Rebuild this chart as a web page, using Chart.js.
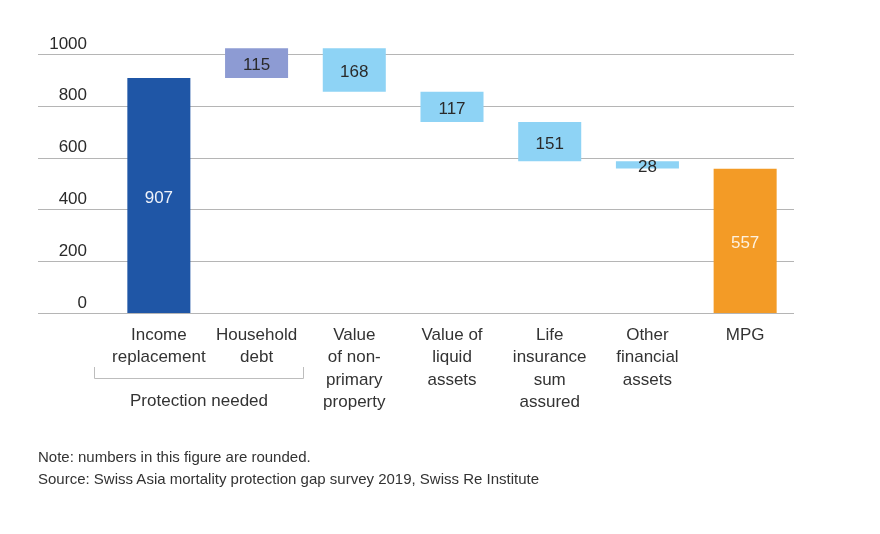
<!DOCTYPE html>
<html>
<head>
<meta charset="utf-8">
<script src="https://cdn.jsdelivr.net/npm/chart.js@4.4.0/dist/chart.umd.min.js"></script>
<style>
body { margin: 0; background: #fff; }
#wrap { position: relative; width: 880px; height: 534px; }
.nota { position: absolute; left: 38px; font: 15px "Liberation Sans", Arial, sans-serif; color: #333; white-space: nowrap; }
</style>
</head>
<body>
<div id="wrap">
    <canvas id="GraficoLacuna"></canvas>
    <div class="nota" style="top:448px">Note: numbers in this figure are rounded.</div>
    <div class="nota" style="top:470px">Source: Swiss Asia mortality protection gap survey 2019, Swiss Re Institute</div>
</div>
<script>
/*Dados do gráfico*/
var categorias = [
    ["Income", "replacement"],
    ["Household", "debt"],
    ["Value", "of non-", "primary", "property"],
    ["Value of", "liquid", "assets"],
    ["Life", "insurance", "sum", "assured"],
    ["Other", "financial", "assets"],
    ["MPG"]
];
var valores = [907, 115, -168, -117, -151, -28, 557];
var tipos = ["total", "passo", "passo", "passo", "passo", "passo", "total"];
var marcasY = [0, 200, 400, 600, 800, 1000];
var grupoTexto = "Protection needed";
var grupoCategorias = [0, 1];

var cores = ["#1f56a6", "#8d9bd3", "#8ed3f5", "#8ed3f5", "#8ed3f5", "#8ed3f5", "#f39b26"];
var coresTexto = ["#eef2fa", "#2a2a2a", "#2a2a2a", "#2a2a2a", "#2a2a2a", "#2a2a2a", "#fdf1de"];
var fonte = "'Liberation Sans', Arial, sans-serif";

/*Monta as barras flutuantes da cascata*/
function MontarIntervalos(valores, tipos) {
    var acumulado = 0;
    var intervalos = [];
    for (var i = 0; i < valores.length; i++) {
        if (tipos[i] === "total") {
            intervalos.push([0, valores[i]]);
            acumulado = valores[i];
        } else {
            intervalos.push([acumulado, acumulado + valores[i]]);
            acumulado += valores[i];
        }
    }
    return intervalos;
}

/*Linhas de grade que passam por baixo dos rótulos do eixo*/
var pluginGrade = {
    id: 'grade',
    beforeDatasetsDraw: function (chart) {
        var ctx = chart.ctx;
        var escala = chart.scales.y;
        ctx.save();
        ctx.strokeStyle = '#b5b5b5';
        ctx.lineWidth = 1;
        escala.ticks.forEach(function (t) {
            var y = Math.round(escala.getPixelForValue(t.value)) + 0.5;
            ctx.beginPath();
            ctx.moveTo(38, y);
            ctx.lineTo(chart.chartArea.right, y);
            ctx.stroke();
        });
        ctx.restore();
    }
};

/*Valores dentro das barras*/
var pluginRotulos = {
    id: 'rotulos',
    afterDatasetsDraw: function (chart) {
        var ctx = chart.ctx;
        var meta = chart.getDatasetMeta(0);
        ctx.save();
        ctx.font = "17px " + fonte;
        ctx.textAlign = 'center';
        ctx.textBaseline = 'middle';
        meta.data.forEach(function (barra, i) {
            ctx.fillStyle = coresTexto[i];
            ctx.fillText(Math.abs(valores[i]), barra.x, (barra.y + barra.base) / 2 + 2.5);
        });
        ctx.restore();
    }
};

/*Chave embaixo de "Protection needed"*/
var pluginChave = {
    id: 'chave',
    afterDraw: function (chart) {
        var ctx = chart.ctx;
        var x = chart.scales.x;
        var esq = Math.round(x.getPixelForValue(grupoCategorias[0]) - 65) + 0.5;
        var dir = Math.round(x.getPixelForValue(grupoCategorias[1]) + 46) + 0.5;
        ctx.save();
        ctx.strokeStyle = '#bdbdbd';
        ctx.lineWidth = 1;
        ctx.beginPath();
        ctx.moveTo(esq, 367);
        ctx.lineTo(esq, 378.5);
        ctx.lineTo(dir, 378.5);
        ctx.lineTo(dir, 367);
        ctx.stroke();
        ctx.font = "17px " + fonte;
        ctx.fillStyle = '#333';
        ctx.textAlign = 'center';
        ctx.textBaseline = 'middle';
        ctx.fillText(grupoTexto, (esq + dir) / 2, 401);
        ctx.restore();
    }
};

var ctx = document.getElementById('GraficoLacuna').getContext('2d');

var grafico = new Chart(ctx, {
    type: 'bar',
    data: {
        labels: categorias,
        datasets: [{
            label: "MPG",
            data: MontarIntervalos(valores, tipos),
            backgroundColor: cores,
            borderWidth: 0,
            barPercentage: 0.645,
            categoryPercentage: 1,
            clip: false
        }]
    },
    options: {
        responsive: true,
        maintainAspectRatio: false,
        animation: false,
        layout: { padding: { top: 54, right: 86, left: 0, bottom: 0 } },
        plugins: {
            legend: { display: false },
            tooltip: { enabled: false }
        },
        scales: {
            x: {
                grid: { display: false },
                border: { display: false },
                ticks: {
                    autoSkip: false,
                    maxRotation: 0,
                    padding: 3,
                    color: '#333',
                    font: { family: fonte, size: 17, lineHeight: 1.32 }
                },
                afterFit: function (escala) { escala.height = 221; }
            },
            y: {
                min: 0,
                max: 1000,
                grid: { display: false, drawTicks: false },
                border: { display: false },
                afterBuildTicks: function (escala) {
                    escala.ticks = marcasY.map(function (v) { return { value: v }; });
                },
                ticks: {
                    padding: 23,
                    labelOffset: -10,
                    color: '#2a2a2a',
                    font: { family: fonte, size: 17 },
                    callback: function (v) { return String(v); }
                },
                afterFit: function (escala) { escala.width = 110; }
            }
        }
    },
    plugins: [pluginGrade, pluginRotulos, pluginChave]
});
</script>
</body>
</html>
